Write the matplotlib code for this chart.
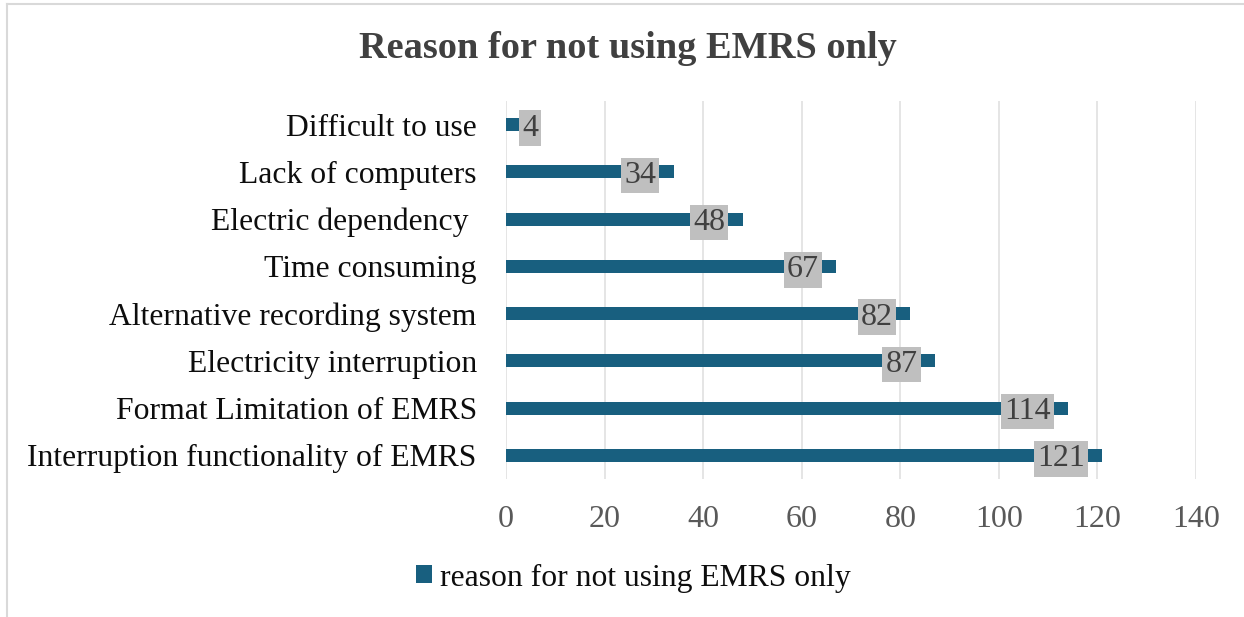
import matplotlib
matplotlib.use("Agg")
import matplotlib.pyplot as plt
from matplotlib.lines import Line2D
from matplotlib.patches import Patch

categories = [
    "Interruption functionality of EMRS",
    "Format Limitation of EMRS",
    "Electricity interruption",
    "Alternative recording system",
    "Time consuming",
    "Electric dependency ",
    "Lack of computers",
    "Difficult to use",
]
values = [121, 114, 87, 82, 67, 48, 34, 4]
xticks = [0, 20, 40, 60, 80, 100, 120, 140]
title = "Reason for not using EMRS only"
series_name = "reason for not using EMRS only"

plt.rcParams["font.family"] = ["Liberation Serif", "DejaVu Serif"]

BAR = "#185F7F"
fig = plt.figure(figsize=(12.44, 6.17), dpi=100)
ax = fig.add_axes([506 / 1244, 1 - 479 / 617, (1196 - 506) / 1244, (479 - 101) / 617])

y = list(range(len(categories)))
ax.barh(y, values, height=0.275, color=BAR, zorder=3)
ax.set_xlim(0, 140)
ax.set_ylim(-0.5, len(categories) - 0.5)
ax.set_xticks(xticks)
ax.set_xticklabels([str(t) for t in xticks])
ax.set_yticks(y)
ax.set_yticklabels(categories)
ax.tick_params(axis="x", length=0, pad=19, labelsize=23, labelcolor="#595959")
ax.tick_params(axis="y", length=0, pad=21, labelsize=22.8, labelcolor="#0D0D0D")
ax.grid(axis="x", color="#E0E0E0", linewidth=1.2, zorder=0)
for s in ax.spines.values():
    s.set_visible(False)

px_per_unit = (1196 - 506) / 140
for yi, v in zip(y, values):
    if v * px_per_unit > 60:
        ax.annotate(str(v), xy=(v, yi), xytext=(-12.5, 0), textcoords="offset points",
                    ha="right", va="center_baseline", fontsize=23, color="#404040", zorder=4,
                    bbox=dict(boxstyle="square,pad=0.1", fc="#BFBFBF", ec="none"))
    else:
        ax.annotate(str(v), xy=(v, yi), xytext=(-2.5, 0), textcoords="offset points",
                    ha="left", va="center_baseline", fontsize=23, color="#404040", zorder=4,
                    bbox=dict(boxstyle="square,pad=0.1", fc="#BFBFBF", ec="none"))

fig.text(628 / 1244, 1 - 48 / 617, title, ha="center", va="center", fontsize=27.6,
         fontweight="bold", color="#404040")

handle = Patch(facecolor=BAR, edgecolor="none")
fig.legend([handle], [series_name], loc="center", bbox_to_anchor=(633 / 1244, 1 - 578 / 617),
           frameon=False, fontsize=22.8, handlelength=0.5, handleheight=0.5, handletextpad=0.25,
           labelcolor="#0D0D0D")

# figure border (top and left)
fig.add_artist(Line2D([7 / 1244, 7 / 1244], [0, 1 - 4 / 617], transform=fig.transFigure,
                      color="#D9D9D9", linewidth=1.5))
fig.add_artist(Line2D([7 / 1244, 1], [1 - 4 / 617, 1 - 4 / 617], transform=fig.transFigure,
                      color="#D9D9D9", linewidth=1.5))

fig.savefig("out.png", dpi=100)
